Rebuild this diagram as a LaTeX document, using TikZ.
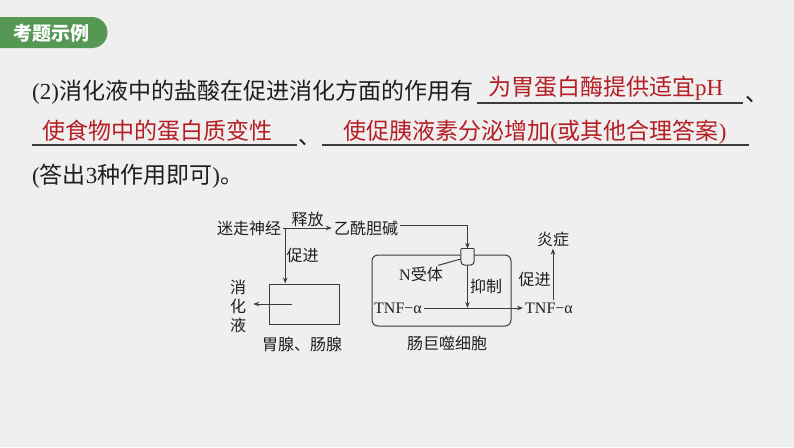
\documentclass[tikz,border=0pt]{standalone}
\usepackage{fontspec}
\setmainfont{Liberation Serif}
\newfontfamily\cjk{Noto Sans CJK SC}
\usetikzlibrary{arrows.meta,calc}
\definecolor{bg}{RGB}{239,239,239}
\definecolor{tabgreen}{RGB}{84,152,84}
\definecolor{ans}{RGB}{180,30,36}
\definecolor{ink}{RGB}{30,30,30}
\definecolor{dg}{RGB}{60,60,60}
\newcommand\lat[1]{{\rmfamily #1}}
\begin{document}
\begin{tikzpicture}[x=1pt,y=-1pt,
  q/.style={anchor=base west,inner sep=0,text=ink,font=\fontsize{23}{27}\selectfont\cjk},
  answ/.style={anchor=base west,inner sep=0,text=ans,font=\fontsize{23}{27}\selectfont\cjk},
  uline/.style={draw=dg,line width=1.3pt},
  lbl/.style={inner sep=2pt,text=ink,font=\fontsize{16}{19}\selectfont\cjk},
  tnf/.style={inner sep=2pt,text=ink,font=\fontsize{16}{19}\selectfont},
  arr/.style={draw=dg,line width=1pt,-{Stealth[length=6pt,width=4.5pt]}},
  ln/.style={draw=dg,line width=1pt},
  gbox/.style={draw=dg,line width=1pt,inner sep=0},
]
\fill[bg] (0,0) rectangle (794,447);
\useasboundingbox (0,0) rectangle (794,447);

% tab
\fill[tabgreen] (0,17) -- (92,17) arc[start angle=-90,end angle=90,radius=15.5] -- (0,48) -- cycle;
\node[text=white,font=\fontsize{19}{22}\selectfont\cjk\bfseries] (tab) at (51,33) {考题示例};

% question text
\node[q] (l1) at (32,99) {\lat{(2)}消化液中的盐酸在促进消化方面的作用有};
\node[answ] (a1) at (488,95) {为胃蛋白酶提供适宜\lat{pH}};
\draw[uline] (477,103) -- (743,103);
\node[q] (c1) at (745,101) {、};
\node[answ] (a2) at (42,139) {使食物中的蛋白质变性};
\draw[uline] (32,145) -- (297,145);
\node[q] (c2) at (298,144) {、};
\draw[uline] (322,145) -- (749,145);
\node[answ] (a3) at (343,139) {使促胰液素分泌增加\lat{(}或其他合理答案\lat{)}};
\node[q] (l3) at (32,183) {\lat{(}答出\lat{3}种作用即可\lat{)}。};

% diagram left
\node[lbl] (vagus) at (249,228) {迷走神经};
\node[lbl] (ach) at (366,228) {乙酰胆碱};
\draw[arr] (vagus.east) -- node[lbl,above,inner sep=1pt] (rel) {释放} (ach.west);
\coordinate (j) at ($(vagus.east)+(2,0)$);
\node[gbox,minimum width=70,minimum height=40] (gland) at (304,304) {};
\draw[arr] (j) -- node[lbl,right,inner sep=1pt] (pro1) {促进} (j |- gland.north);
\node[lbl,align=center] (juice) at (238,306) {消\\化\\液};
\coordinate (gin) at (292,304);
\draw[arr] (gin) -- ($(juice.east |- gin)+(5,0)$);
\node[lbl] (glandlbl) at (302,344) {胃腺、肠腺};

% macrophage
\node[gbox,rounded corners=6pt,minimum width=139,minimum height=71] (mac) at (441.5,290.5) {};
\node[inner sep=0,minimum width=13,minimum height=16] (rec) at (467.5,257) {};
\fill[bg] (rec.north west) rectangle (rec.south east);
\draw[ln,rounded corners=4pt] (rec.north west) -- (rec.south west) -- (rec.south east) -- (rec.north east);
\draw[ln] (rec.north west) -- (rec.north east);
\draw[arr] ([yshift=3pt]ach.east) -| (rec.north);
\node[lbl] (nrec) at (421,274) {\lat{N}受体};
\draw[ln] ($(nrec.north east)+(-7,1)$) -- ([yshift=-2pt]rec.west);
\node[tnf] (tnf1) at (398,308) {TNF−α};
\node[tnf] (tnf2) at (549,308) {TNF−α};
\draw[arr] (tnf1.east) -- (tnf2.west);
\draw[arr] (rec.south) -- node[lbl,right,inner sep=2pt] (inh) {抑制} (rec.south |- tnf1);
\node[lbl] (yan) at (553,239) {炎症};
\draw[arr] (tnf2.north -| yan) -- node[lbl,left,inner sep=2pt,pos=0.4] (pro2) {促进} (yan.south);
\node[lbl] (maclbl) at (447,343) {肠巨噬细胞};
\end{tikzpicture}
\end{document}
